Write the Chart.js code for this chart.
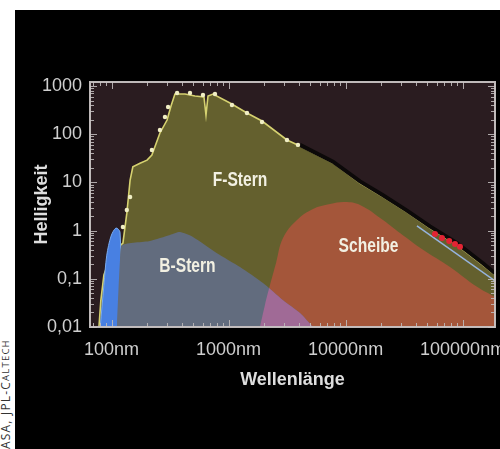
<!DOCTYPE html>
<html><head><meta charset="utf-8">
<script src="https://cdn.jsdelivr.net/npm/chart.js@4.4.1/dist/chart.umd.min.js"></script>
<style>
html,body{margin:0;padding:0;background:#fff;width:500px;height:449px;overflow:hidden;}
#panel{position:absolute;left:15px;top:10px;width:485px;height:439px;background:#000;overflow:hidden;}
#c{position:absolute;left:0;top:0;filter:blur(0.45px);}
#credit{position:absolute;left:0;top:333px;height:116px;width:12px;writing-mode:vertical-rl;transform:rotate(180deg);font:12px "Open Sans",sans-serif;letter-spacing:1.2px;color:#333;white-space:nowrap;line-height:12px;}
</style></head><body>
<div id="panel"><canvas id="c" width="505" height="439"></canvas></div>
<div id="credit">ASA, JPL-C<span style="font-size:9.5px">ALTECH</span></div>
<script>
// ---- data (wavelength in nm, brightness in relative units) ----
const xTickValues = [100, 1000, 10000, 100000];
const xTickLabels = ['100nm', '1000nm', '10000nm', '100000nm'];
const yTickValues = [0.01, 0.1, 1, 10, 100, 1000];
const yTickLabels = ['0,01', '0,1', '1', '10', '100', '1000'];

const fSternNm  = [78, 81, 86, 97, 113, 125, 135, 144, 152, 175, 201, 221, 259, 298, 322, 348, 424, 516, 616, 641, 667, 736, 1028, 1436, 1930, 3155, 4074, 7805, 13280, 20880, 33480, 52650, 89540, 149300, 189300];
const fSternVal = [0.01, 0.036, 0.12, 0.27, 0.44, 0.55, 2.3, 11.2, 21, 25, 29, 37, 106, 197, 385, 682, 682, 620, 591, 250, 620, 682, 444, 275, 188, 76, 57, 25.3, 9.7, 5.0, 2.43, 1.13, 0.50, 0.193, 0.12];

const modellNm  = [4074, 7805, 13280, 20880, 33480, 52650, 89540, 149300, 189300];
const modellVal = [60, 27, 10.5, 5.4, 2.6, 1.22, 0.55, 0.21, 0.13];

const uvNm  = [80, 86, 91, 99, 109, 118, 123];
const uvVal = [0.01, 0.074, 0.31, 0.77, 1.13, 0.93, 0.01];

const bSternNm  = [111, 118, 123, 213, 316, 384, 496, 796, 1252, 1968, 2918, 4074, 5265];
const bSternVal = [0.01, 0.245, 0.50, 0.61, 0.81, 0.93, 0.74, 0.34, 0.176, 0.082, 0.036, 0.0195, 0.01];

const scheibeNm  = [1854, 2047, 2258, 2541, 2918, 3843, 5265, 7358, 9883, 13280, 20880, 29170, 45870, 78050, 132700, 189300];
const scheibeVal = [0.01, 0.029, 0.074, 0.21, 0.70, 1.66, 2.81, 3.56, 3.92, 3.40, 1.66, 0.89, 0.40, 0.176, 0.068, 0.042];

const blueLineNm  = [40740, 189300];
const blueLineVal = [1.25, 0.09];

const redNm  = [58070, 66680, 76830, 86100, 95030];
const redVal = [0.85, 0.70, 0.61, 0.53, 0.46];

const dotNm  = [125, 135, 144, 221, 259, 286, 304, 363, 468, 604, 765, 1069, 1436, 1930, 3155, 3918];
const dotVal = [1.19, 2.68, 4.98, 47, 122, 228, 366, 716, 716, 650, 682, 404, 275, 179, 76, 60];

const seriesLabels = ['F-Stern', 'B-Stern', 'Scheibe'];

const pts = (xs, ys) => xs.map((x, i) => ({x: x, y: ys[i]}));

const bgPlugin = {
  id: 'plotBg',
  beforeDraw(chart) {
    const {ctx, chartArea: a} = chart;
    ctx.save();
    ctx.fillStyle = '#2a1c20';
    ctx.fillRect(a.left, a.top, a.right - a.left, a.bottom - a.top);
    ctx.restore();
  }
};

const overlapPlugin = {
  id: 'overlap',
  afterDatasetsDraw(chart) {
    const ctx = chart.ctx, a = chart.chartArea;
    const sMeta = chart.getDatasetMeta(3), bMeta = chart.getDatasetMeta(4);
    const sp = sMeta.data, bp = bMeta.data;
    ctx.save();
    ctx.beginPath();
    ctx.rect(a.left, a.top, a.right - a.left, a.bottom - a.top);
    ctx.clip();
    ctx.beginPath();
    sMeta.dataset.path(ctx);
    ctx.lineTo(sp[sp.length - 1].x, a.bottom);
    ctx.lineTo(sp[0].x, a.bottom);
    ctx.closePath();
    ctx.clip();
    ctx.beginPath();
    bMeta.dataset.path(ctx);
    ctx.lineTo(bp[bp.length - 1].x, a.bottom);
    ctx.lineTo(bp[0].x, a.bottom);
    ctx.closePath();
    ctx.fillStyle = 'rgb(160,106,150)';
    ctx.fill();
    ctx.restore();
  }
};

const framePlugin = {
  id: 'frame',
  afterDatasetsDraw(chart) {
    const {ctx, chartArea: a, scales} = chart;
    const xs = scales.x, ys = scales.y;
    ctx.save();
    ctx.strokeStyle = 'rgba(190,185,185,0.9)';
    ctx.lineWidth = 1;
    for (let e = -2; e <= 3; e++) {
      for (let m = 1; m <= 9; m++) {
        const v = m * Math.pow(10, e);
        if (v < ys.min || v > ys.max) continue;
        const py = Math.round(ys.getPixelForValue(v)) + 0.5;
        const len = m === 1 ? 7 : 4;
        ctx.beginPath();
        ctx.moveTo(a.left, py); ctx.lineTo(a.left + len, py);
        ctx.moveTo(a.right, py); ctx.lineTo(a.right - len, py);
        ctx.stroke();
      }
    }
    for (let e = 1; e <= 5; e++) {
      for (let m = 1; m <= 9; m++) {
        const v = m * Math.pow(10, e);
        if (v < xs.min || v > xs.max) continue;
        const px = Math.round(xs.getPixelForValue(v)) + 0.5;
        const len = m === 1 ? 7 : 4;
        ctx.beginPath();
        ctx.moveTo(px, a.bottom); ctx.lineTo(px, a.bottom - len);
        ctx.moveTo(px, a.top); ctx.lineTo(px, a.top + len);
        ctx.stroke();
      }
    }
    ctx.lineWidth = 2;
    ctx.strokeStyle = 'rgba(200,195,195,0.95)';
    ctx.strokeRect(a.left, a.top, a.right - a.left, a.bottom - a.top);
    ctx.restore();
  }
};

const labelPlugin = {
  id: 'regionLabels',
  afterDatasetsDraw(chart) {
    const {ctx, scales} = chart;
    const spots = [[1252, 11.2], [445, 0.176], [15700, 0.467]];
    ctx.save();
    ctx.font = 'bold 20px "Liberation Sans", Arial, sans-serif';
    ctx.fillStyle = '#f2f0e2';
    ctx.textAlign = 'center';
    ctx.textBaseline = 'middle';
    seriesLabels.forEach((t, i) => {
      ctx.save();
      ctx.translate(scales.x.getPixelForValue(spots[i][0]), scales.y.getPixelForValue(spots[i][1]));
      ctx.scale(0.78, 1);
      ctx.fillText(t, 0, 0);
      ctx.restore();
    });
    ctx.restore();
  }
};

new Chart(document.getElementById('c'), {
  type: 'line',
  data: {
    datasets: [
      {label: 'F-Stern', data: pts(fSternNm, fSternVal), order: 9, fill: 'start',
       backgroundColor: 'rgb(100,96,46)', borderColor: 'rgb(214,210,112)', borderWidth: 1.6,
       pointRadius: 0, tension: 0},
      {label: 'Modell', data: pts(modellNm, modellVal), order: 8, fill: false,
       borderColor: '#0c0909', borderWidth: 4, pointRadius: 0, tension: 0},
      {label: 'UV', data: pts(uvNm, uvVal), order: 7, fill: 'start',
       backgroundColor: 'rgb(72,128,226)', borderColor: 'rgb(120,170,240)', borderWidth: 1,
       pointRadius: 0, tension: 0.3},
      {label: 'Scheibe', data: pts(scheibeNm, scheibeVal), order: 6, fill: 'start',
       backgroundColor: 'rgb(164,86,58)', borderColor: 'rgb(164,86,58)', borderWidth: 0,
       pointRadius: 0, tension: 0.4},
      {label: 'B-Stern', data: pts(bSternNm, bSternVal), order: 5, fill: 'start',
       backgroundColor: 'rgb(98,108,126)', borderColor: 'rgb(98,108,126)', borderWidth: 0,
       pointRadius: 0, tension: 0.2},
      {label: 'Summe', data: pts(blueLineNm, blueLineVal), order: 4, fill: false,
       borderColor: 'rgb(150,180,222)', borderWidth: 1.5, pointRadius: 0},
      {label: 'IR-Messung', data: pts(redNm, redVal), order: 3, showLine: false,
       pointRadius: 3, pointBackgroundColor: 'rgb(226,36,52)', pointBorderWidth: 0},
      {label: 'Messpunkte', data: pts(dotNm, dotVal), order: 2, showLine: false,
       pointRadius: 2.2, pointBackgroundColor: 'rgb(240,238,196)', pointBorderWidth: 0}
    ]
  },
  options: {
    responsive: false,
    animation: false,
    layout: {padding: {left: 0, top: 72, right: 25, bottom: 0}},
    plugins: {legend: {display: false}, tooltip: {enabled: false}},
    scales: {
      x: {
        type: 'logarithmic', min: 65.4, max: 189200,
        afterBuildTicks: s => { s.ticks = xTickValues.map(v => ({value: v})); },
        afterFit: s => { s.height = 122; },
        grid: {display: false, drawTicks: false},
        border: {display: false},
        ticks: {
          color: '#cfcfcf', padding: 12, maxRotation: 0, autoSkip: false,
          font: {family: '"Liberation Sans", Arial, sans-serif', size: 18},
          callback: (v, i) => xTickLabels[i]
        },
        title: {display: true, text: 'Wellenlänge', color: '#dedede',
          font: {family: '"Liberation Sans", Arial, sans-serif', size: 18, weight: 'bold'},
          padding: {top: 0, bottom: 58}}
      },
      y: {
        type: 'logarithmic', min: 0.01, max: 1211,
        afterBuildTicks: s => { s.ticks = yTickValues.map(v => ({value: v})); },
        afterFit: s => { s.width = 75; },
        grid: {display: false, drawTicks: false},
        border: {display: false},
        ticks: {
          color: '#cfcfcf', padding: 8, autoSkip: false,
          font: {family: '"Liberation Sans", Arial, sans-serif', size: 18},
          callback: (v, i) => yTickLabels[i]
        },
        title: {display: true, text: 'Helligkeit', color: '#dedede',
          font: {family: '"Liberation Sans", Arial, sans-serif', size: 18, weight: 'bold'},
          padding: {top: 16, bottom: 0}}
      }
    }
  },
  plugins: [bgPlugin, overlapPlugin, framePlugin, labelPlugin]
});
</script>
</body></html>
